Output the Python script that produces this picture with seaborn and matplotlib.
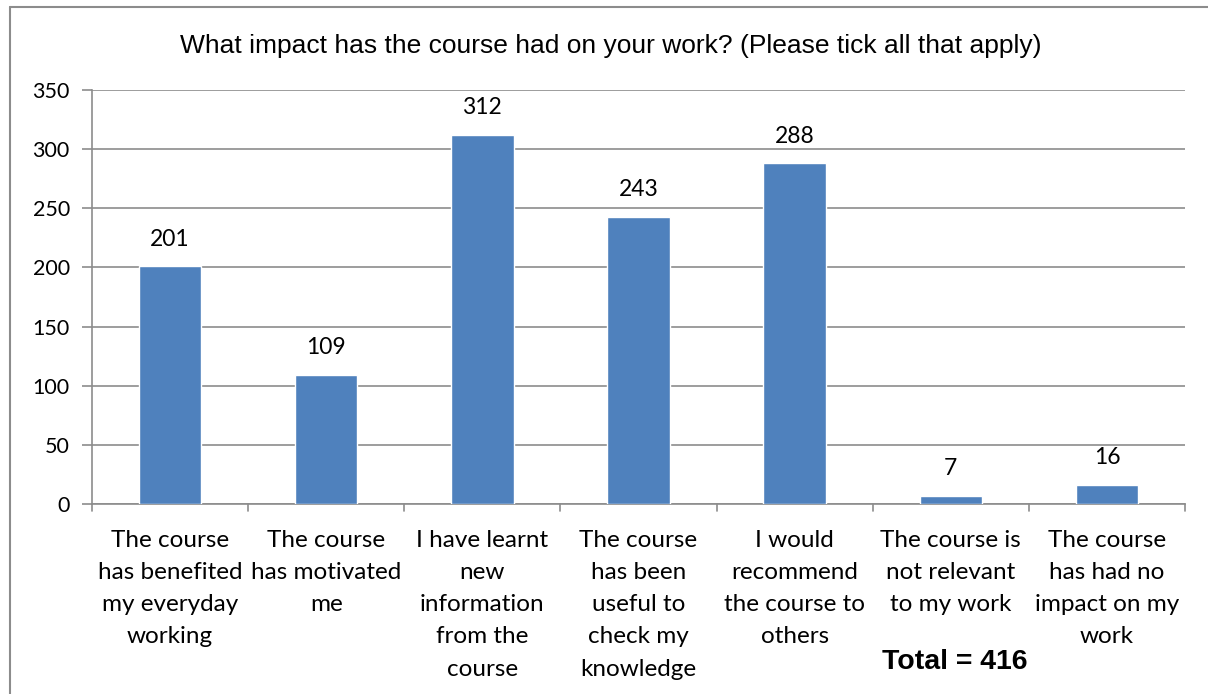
import matplotlib.pyplot as plt
import pandas as pd
import seaborn as sns
from matplotlib.lines import Line2D

categories = [
    "The course\nhas benefited\nmy everyday\nworking",
    "The course\nhas motivated\nme",
    "I have learnt\nnew\ninformation\nfrom the\ncourse",
    "The course\nhas been\nuseful to\ncheck my\nknowledge",
    "I would\nrecommend\nthe course to\nothers",
    "The course is\nnot relevant\nto my work",
    "The course\nhas had no\nimpact on my\nwork",
]
counts = [201, 109, 312, 243, 288, 7, 16]
title = "What impact has the course had on your work? (Please tick all that apply)"
total_note = "Total = 416"

df = pd.DataFrame({"category": categories, "count": counts})

sns.set_theme(style="white")
plt.rcParams["font.family"] = ["Lato", "DejaVu Sans"]

fig = plt.figure(figsize=(12.08, 6.94), dpi=100)
ax = fig.add_axes([92 / 1208, 1 - 504 / 694, (1185 - 92) / 1208, (504 - 90) / 694])

sns.barplot(data=df, x="category", y="count", color="#4F81BD", saturation=1,
            width=0.40, ax=ax, zorder=3)

ax.set_ylim(0, 350)
ax.set_yticks(range(0, 351, 50))
ax.set_xlim(-0.5, len(categories) - 0.5)
ax.yaxis.grid(True, color="#8c8c8c", linewidth=1.2, zorder=0)
ax.set_xlabel("")
ax.set_ylabel("")

for s in ["top", "right"]:
    ax.spines[s].set_visible(False)
for s in ["left", "bottom"]:
    ax.spines[s].set_color("#8c8c8c")
    ax.spines[s].set_linewidth(1.2)

ax.tick_params(axis="y", direction="out", length=7, width=1.2, color="#8c8c8c",
               labelsize=15.5, labelcolor="black", pad=9, left=True)
ax.tick_params(axis="x", length=0, labelsize=17.5, labelcolor="black", pad=18.5)
for lbl in ax.get_xticklabels():
    lbl.set_linespacing(1.66)
    lbl.set_verticalalignment("top")

# category boundary ticks
for b in range(len(categories) + 1):
    ax.add_line(Line2D([b - 0.5, b - 0.5], [0, -0.018], transform=ax.get_xaxis_transform(),
                       color="#8c8c8c", linewidth=1.2, clip_on=False))

for i, v in enumerate(counts):
    ax.annotate(str(v), (i, v), xytext=(0, 12), textcoords="offset points",
                ha="center", va="bottom", fontsize=16.5, color="black")

fig.text(611 / 1208, 1 - 46 / 694, title, ha="center", va="center", fontsize=19,
         family="Liberation Sans", color="black")
fig.text(955 / 1208, 1 - 662 / 694, total_note, ha="center", va="center", fontsize=20.5,
         family="Liberation Sans", weight="bold", color="black")

# outer chart border
fig.add_artist(Line2D([9.5 / 1208, 9.5 / 1208], [0, 1 - 6.5 / 694], transform=fig.transFigure,
                      color="#8c8c8c", linewidth=1.5))
fig.add_artist(Line2D([9.5 / 1208, 1], [1 - 6.5 / 694, 1 - 6.5 / 694], transform=fig.transFigure,
                      color="#8c8c8c", linewidth=1.5))

fig.savefig("out.png", dpi=100, facecolor="white")
